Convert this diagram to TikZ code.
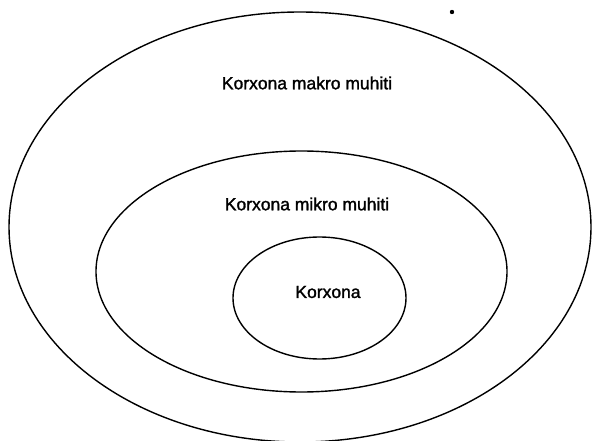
\documentclass[tikz,border=0pt]{standalone}
\usepackage{fontspec}
\setmainfont{Liberation Sans}
\newfontfamily\lblfont[FakeBold=1.5]{Liberation Sans}
\usetikzlibrary{shapes.geometric}
\begin{document}
\begin{tikzpicture}[x=1pt,y=-1pt,
  ring/.style={draw=black,line width=1.4pt,ellipse,inner sep=0pt},
  lbl/.style={font=\lblfont\fontsize{17.5}{20}\selectfont,text=black,inner sep=0pt,anchor=center}]
\useasboundingbox (0,0) rectangle (592,441);
\fill[white] (0,0) rectangle (592,441);
\node[ring,minimum width=582pt,minimum height=430pt] (outer) at (300,227) {};
\node[ring,minimum width=411pt,minimum height=241pt] (middle) at (301.5,271.5) {};
\node[ring,minimum width=173pt,minimum height=122pt] (inner) at (319.5,298) {};
\node[lbl] (tmakro) at (307,83) {Korxona makro muhiti};
\node[lbl] (tmikro) at (307,204) {Korxona mikro muhiti};
\node[lbl] (tkor) at (328,292) {Korxona};
\fill[black] (452,12) circle (2.2pt);
\end{tikzpicture}
\end{document}
